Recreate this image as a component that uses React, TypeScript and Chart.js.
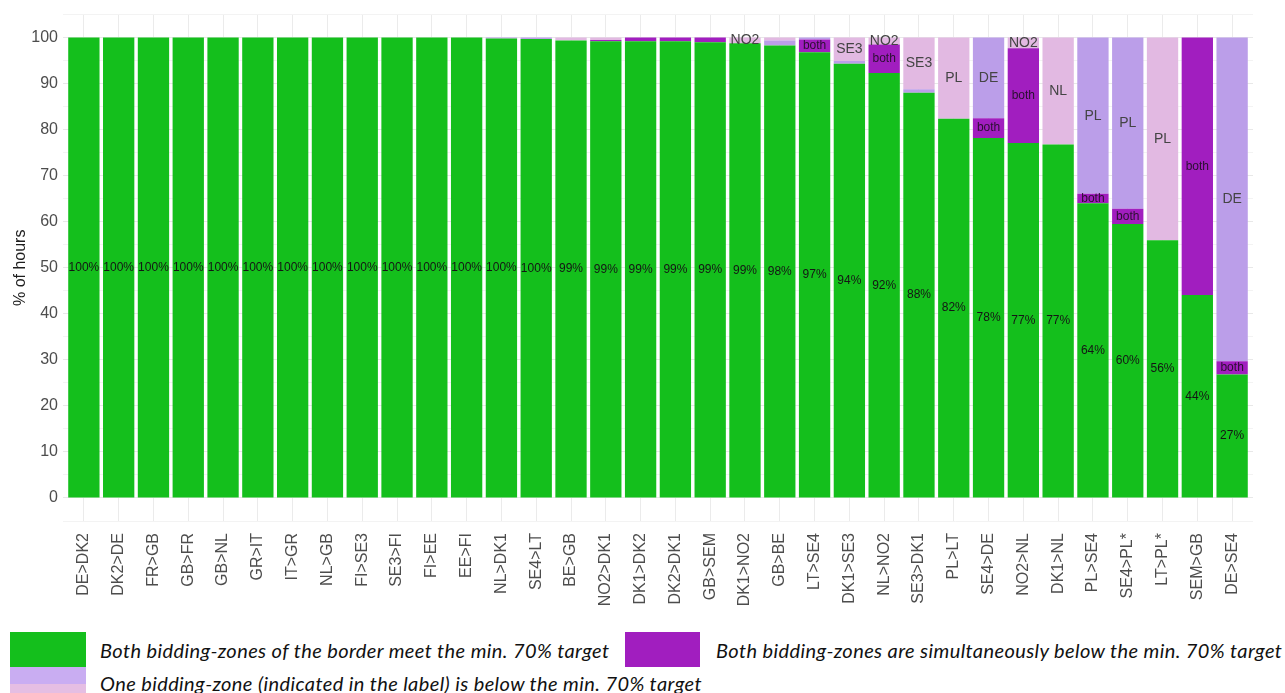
import React, { useEffect, useRef } from 'react';
import { Chart, registerables } from 'chart.js';

Chart.register(...registerables);

const categories = [
  'DE>DK2', 'DK2>DE', 'FR>GB', 'GB>FR', 'GB>NL', 'GR>IT', 'IT>GR', 'NL>GB', 'FI>SE3', 'SE3>FI',
  'FI>EE', 'EE>FI', 'NL>DK1', 'SE4>LT', 'BE>GB', 'NO2>DK1', 'DK1>DK2', 'DK2>DK1', 'GB>SEM', 'DK1>NO2',
  'GB>BE', 'LT>SE4', 'DK1>SE3', 'NL>NO2', 'SE3>DK1', 'PL>LT', 'SE4>DE', 'NO2>NL', 'DK1>NL', 'PL>SE4',
  'SE4>PL*', 'LT>PL*', 'SEM>GB', 'DE>SE4',
];

// Both bidding-zones meet the target
const greenValues = [
  100, 100, 100, 100, 100, 100, 100, 100, 100, 100,
  100, 100, 99.8, 99.7, 99.4, 99.2, 99.2, 99.2, 99.0, 98.8,
  98.3, 96.8, 94.3, 92.3, 88.0, 82.4, 78.2, 77.1, 76.8, 64.0,
  59.5, 56.0, 44.1, 26.8,
];

// Both bidding-zones simultaneously below the target
const bothValues = [
  0, 0, 0, 0, 0, 0, 0, 0, 0, 0,
  0, 0, 0, 0, 0, 0.3, 0.8, 0.8, 1.0, 0,
  0, 2.8, 0, 6.2, 0, 0, 4.3, 20.6, 0, 2.1,
  3.3, 0, 55.9, 2.9,
];

// One bidding-zone below the target (lavender)
const oneZoneLavender = [
  0, 0, 0, 0, 0, 0, 0, 0, 0, 0,
  0, 0, 0.2, 0.3, 0, 0, 0, 0, 0, 0,
  1.1, 0.4, 0.6, 0, 0.8, 0, 17.5, 0, 0, 33.9,
  37.2, 0, 0, 70.3,
];

// One bidding-zone below the target (pink)
const oneZonePink = [
  0, 0, 0, 0, 0, 0, 0, 0, 0, 0,
  0, 0, 0, 0, 0.6, 0.5, 0, 0, 0, 1.2,
  0.6, 0, 5.1, 1.5, 11.2, 17.6, 0, 2.3, 23.2, 0,
  0, 44.0, 0, 0,
];

const bothLabels = [
  '', '', '', '', '', '', '', '', '', '',
  '', '', '', '', '', '', '', '', '', '',
  '', 'both', '', 'both', '', '', 'both', 'both', '', 'both',
  'both', '', 'both', 'both',
];

const lavenderLabels = [
  '', '', '', '', '', '', '', '', '', '',
  '', '', '', '', '', '', '', '', '', '',
  '', '', '', '', '', '', 'DE', '', '', 'PL',
  'PL', '', '', 'DE',
];

const pinkLabels = [
  '', '', '', '', '', '', '', '', '', '',
  '', '', '', '', '', '', '', '', '', 'NO2',
  '', '', 'SE3', 'NO2', 'SE3', 'PL', '', 'NO2', 'NL', '',
  '', 'PL', '', '',
];

const yTicks = [-5, 0, 5, 10, 15, 20, 25, 30, 35, 40, 45, 50, 55, 60, 65, 70, 75, 80, 85, 90, 95, 100, 105];

const GREEN = '#14bf1c';
const PURPLE = '#a11ebf';
const LAVENDER = '#bb9ee9';
const PINK = '#e2b9e2';

const FONT = '"Liberation Sans", Arial, Helvetica, sans-serif';

const greenLabels = greenValues.map((v) => Math.round(v) + '%');
const labelSets = [greenLabels, bothLabels, lavenderLabels, pinkLabels];
const labelStyles = [
  { size: 12, color: '#151515' },
  { size: 12, color: '#2a1030' },
  { size: 14, color: '#444444' },
  { size: 14, color: '#444444' },
];

const segLabelPlugin = {
  id: 'segLabels',
  afterDatasetsDraw(chart: any) {
    const ctx = chart.ctx;
    chart.data.datasets.forEach((_ds: any, di: number) => {
      const meta = chart.getDatasetMeta(di);
      const labels = labelSets[di];
      const st = labelStyles[di];
      meta.data.forEach((el: any, i: number) => {
        const t = labels[i];
        if (!t) return;
        const p = el.getProps(['x', 'y', 'base'], true);
        ctx.save();
        ctx.font = `${st.size}px ${FONT}`;
        ctx.fillStyle = st.color;
        ctx.textAlign = 'center';
        ctx.textBaseline = 'middle';
        ctx.fillText(t, p.x, (p.y + p.base) / 2);
        ctx.restore();
      });
    });
  },
};

function toPoints(arr: number[]) {
  return arr.map((v, i) => ({ x: i, y: v }));
}

function BarChart() {
  const ref = useRef<HTMLCanvasElement | null>(null);
  useEffect(() => {
    if (!ref.current) return;
    const common = { stack: 'all', borderWidth: 0, barPercentage: 0.9, categoryPercentage: 1 };
    const chart = new Chart(ref.current, {
      type: 'bar',
      data: {
        datasets: [
          { ...common, label: 'Both meet', data: toPoints(greenValues), backgroundColor: GREEN },
          { ...common, label: 'Both below', data: toPoints(bothValues), backgroundColor: PURPLE },
          { ...common, label: 'One below (a)', data: toPoints(oneZoneLavender), backgroundColor: LAVENDER },
          { ...common, label: 'One below (b)', data: toPoints(oneZonePink), backgroundColor: PINK },
        ],
      } as any,
      options: {
        responsive: false,
        animation: false,
        layout: { padding: { top: 13, right: 32, left: 0, bottom: 0 } },
        plugins: { legend: { display: false }, tooltip: { enabled: false } },
        scales: {
          x: {
            type: 'linear',
            min: -0.6,
            max: 33.6,
            offset: false,
            stacked: true,
            afterBuildTicks: (scale: any) => {
              scale.ticks = categories.map((_c, i) => ({ value: i }));
            },
            afterFit: (scale: any) => {
              scale.height = 104;
            },
            grid: { color: '#ebebeb', lineWidth: 1, drawTicks: false, offset: false },
            border: { display: false },
            ticks: {
              autoSkip: false,
              minRotation: 90,
              maxRotation: 90,
              padding: 12,
              color: '#4d4d4d',
              font: { size: 16, family: FONT },
              callback: (v: any) => categories[Math.round(Number(v))] ?? '',
            },
          },
          y: {
            type: 'linear',
            min: -5,
            max: 105,
            stacked: true,
            afterBuildTicks: (scale: any) => {
              scale.ticks = yTicks.map((v) => ({ value: v }));
            },
            afterFit: (scale: any) => {
              scale.width = 63;
            },
            grid: {
              drawTicks: false,
              lineWidth: 1,
              color: (ctx: any) => (ctx.tick && ctx.tick.value % 10 === 0 ? '#e8e8e8' : '#f3f3f3'),
            },
            border: { display: false },
            title: {
              display: true,
              text: '% of hours',
              color: '#1e1e1e',
              font: { size: 16, family: FONT },
              padding: { top: 11, bottom: 0 },
            },
            ticks: {
              padding: 5,
              color: '#4d4d4d',
              font: { size: 16, family: FONT },
              callback: (v: any) => (Number(v) >= 0 && Number(v) % 10 === 0 ? String(v) : ''),
            },
          },
        },
      } as any,
      plugins: [segLabelPlugin],
    });
    return () => chart.destroy();
  }, []);
  return <canvas ref={ref} width={1285} height={625} style={{ display: 'block', width: 1285, height: 625 }} />;
}

const legendText: React.CSSProperties = {
  position: 'absolute',
  fontFamily: "Lato, 'Open Sans', sans-serif",
  fontStyle: 'italic',
  fontSize: 20,
  letterSpacing: 0.4,
  color: '#111',
  whiteSpace: 'nowrap',
  lineHeight: '24px',
};

export default function App() {
  return (
    <div style={{ position: 'absolute', left: 0, top: 0, width: 1285, height: 693, overflow: 'hidden', background: '#fff' }}>
      <BarChart />
      <div style={{ position: 'absolute', left: 10, top: 632, width: 76, height: 35, background: GREEN }} />
      <div style={{ ...legendText, left: 100, top: 638 }}>Both bidding-zones of the border meet the min. 70% target</div>
      <div style={{ position: 'absolute', left: 625, top: 632, width: 75, height: 35, background: PURPLE }} />
      <div style={{ ...legendText, left: 716, top: 638 }}>Both bidding-zones are simultaneously below the min. 70% target</div>
      <div style={{ position: 'absolute', left: 10, top: 667, width: 76, height: 17, background: '#c9adf2' }} />
      <div style={{ position: 'absolute', left: 10, top: 684, width: 76, height: 12, background: '#e5bee3' }} />
      <div style={{ ...legendText, left: 100, top: 671 }}>One bidding-zone (indicated in the label) is below the min. 70% target</div>
    </div>
  );
}
